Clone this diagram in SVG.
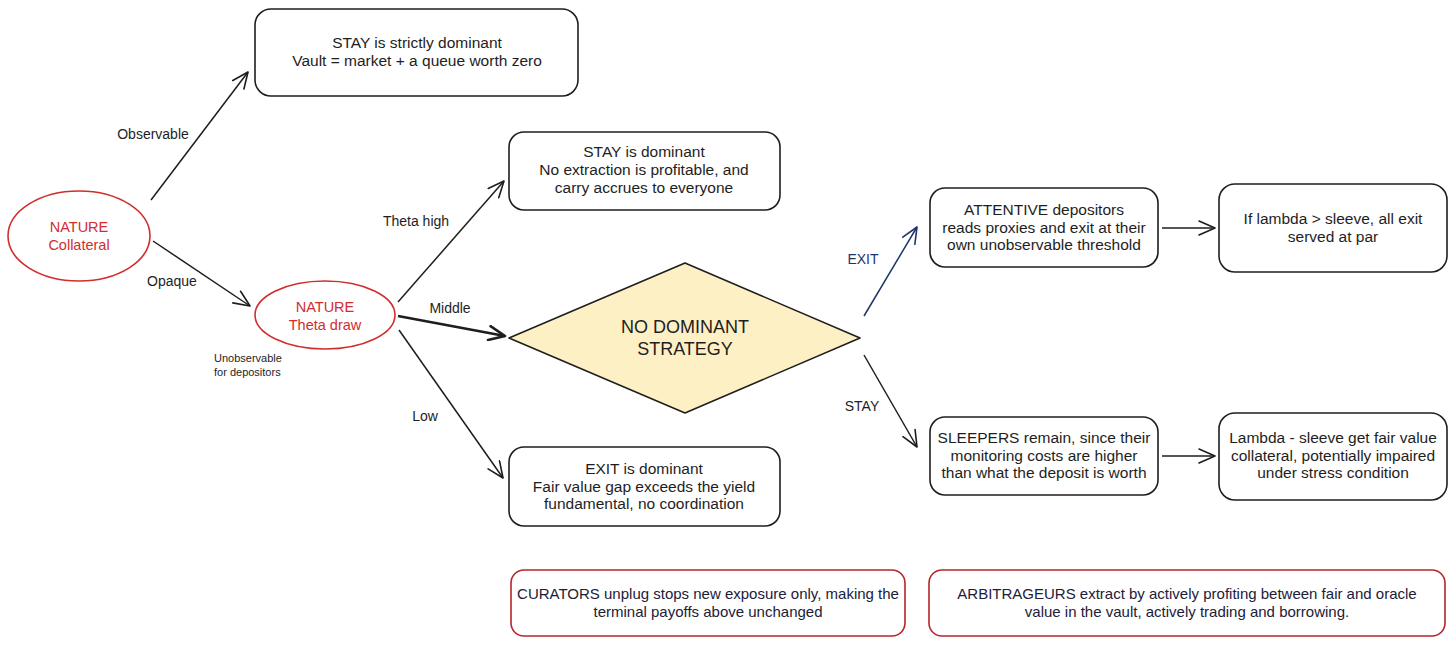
<svg xmlns="http://www.w3.org/2000/svg" width="1456" height="646" viewBox="0 0 1456 646">
<defs>
<style>
text{font-family:"Liberation Sans","Noto Sans",sans-serif;fill:#1e1e1e;font-size:15.5px;text-anchor:middle}
.box{fill:#fff;stroke:#1e1e1e;stroke-width:1.6}
.rbox{fill:#fff;stroke:#b7262b;stroke-width:1.6}
.nat{fill:#fff;stroke:#d12d2d;stroke-width:1.6}
.red{fill:#d12d2d;font-size:14.5px}
.navy{fill:#1e3468}
.bt{fill:#1c2038;font-size:15px}
.lbl{font-size:14px}
.small{font-size:11px;text-anchor:start}
.conn{fill:none;stroke:#1e1e1e;stroke-width:1.5;marker-end:url(#ah)}
.connb{fill:none;stroke:#1e3468;stroke-width:1.5;marker-end:url(#ahb)}
</style>
<marker id="ah" viewBox="0 0 20 16" refX="18" refY="8" markerWidth="20" markerHeight="16" markerUnits="userSpaceOnUse" orient="auto">
<path d="M2,1 L18,8 L2,15" fill="none" stroke="#1e1e1e" stroke-width="1.6" stroke-linecap="round" stroke-linejoin="round"/>
</marker>
<marker id="ahb" viewBox="0 0 20 16" refX="18" refY="8" markerWidth="20" markerHeight="16" markerUnits="userSpaceOnUse" orient="auto">
<path d="M2,1 L18,8 L2,15" fill="none" stroke="#1e3468" stroke-width="1.6" stroke-linecap="round" stroke-linejoin="round"/>
</marker>
<marker id="ahm" viewBox="0 0 20 16" refX="18" refY="8" markerWidth="20" markerHeight="16" markerUnits="userSpaceOnUse" orient="auto">
<path d="M2,1 L18,8 L2,15" fill="none" stroke="#1e1e1e" stroke-width="2.6" stroke-linecap="round" stroke-linejoin="round"/>
</marker>
</defs>
<rect width="1456" height="646" fill="#fff"/>

<g id="connectors">
<path class="conn" d="M151,200 L248,72"/>
<path class="conn" d="M153,241 L250,306"/>
<path class="conn" d="M398,302 L504,181"/>
<path class="conn" d="M398,316 L505,336" style="stroke-width:2.6;marker-end:url(#ahm)"/>
<path class="conn" d="M399,330 L503,478"/>
<path class="connb" d="M864,316 L917,227"/>
<path class="conn" d="M864,355 L917,447"/>
<path class="conn" d="M1162,228 L1215,228"/>
<path class="conn" d="M1162,456 L1215,456"/>
<text class="lbl" x="153" y="139">Observable</text>
<text class="lbl" x="172" y="286">Opaque</text>
<text class="lbl" x="416" y="226">Theta high</text>
<text class="lbl" x="450" y="313">Middle</text>
<text class="lbl" x="425" y="421">Low</text>
<text class="lbl navy" x="863" y="264">EXIT</text>
<text class="lbl" x="862" y="411">STAY</text>
</g>

<g id="nature-collateral">
<ellipse class="nat" cx="79" cy="236" rx="71" ry="45"/>
<text class="red" x="79" y="232">NATURE</text>
<text class="red" x="79" y="250">Collateral</text>
</g>

<g id="nature-theta">
<ellipse class="nat" cx="325" cy="315" rx="70" ry="34"/>
<text class="red" x="325" y="312">NATURE</text>
<text class="red" x="325" y="330">Theta draw</text>
<text class="small" x="214" y="362">Unobservable</text>
<text class="small" x="214" y="376">for depositors</text>
</g>

<g id="stay-strict">
<rect class="box" x="255" y="9" width="323" height="87" rx="16"/>
<text x="417" y="48">STAY is strictly dominant</text>
<text x="417" y="66">Vault = market + a queue worth zero</text>
</g>

<g id="stay-dominant">
<rect class="box" x="509" y="132" width="271" height="78" rx="15"/>
<text x="644" y="157">STAY is dominant</text>
<text x="644" y="175">No extraction is profitable, and</text>
<text x="644" y="193">carry accrues to everyone</text>
</g>

<g id="no-dominant">
<path d="M509,338 L685,263 L860,338 L685,413 Z" fill="#fdf0c4" stroke="#1e1e1e" stroke-width="1.6" stroke-linejoin="round"/>
<text x="685" y="333" style="font-size:18px">NO DOMINANT</text>
<text x="685" y="355" style="font-size:18px">STRATEGY</text>
</g>

<g id="exit-dominant">
<rect class="box" x="509" y="447" width="271" height="79" rx="15"/>
<text x="644" y="474">EXIT is dominant</text>
<text x="644" y="492">Fair value gap exceeds the yield</text>
<text x="644" y="509">fundamental, no coordination</text>
</g>

<g id="attentive">
<rect class="box" x="930" y="188" width="228" height="79" rx="15"/>
<text x="1044" y="215">ATTENTIVE depositors</text>
<text x="1044" y="233">reads proxies and exit at their</text>
<text x="1044" y="250">own unobservable threshold</text>
</g>

<g id="all-exit">
<rect class="box" x="1219" y="184" width="228" height="88" rx="16"/>
<text x="1333" y="224">If lambda &gt; sleeve, all exit</text>
<text x="1333" y="242">served at par</text>
</g>

<g id="sleepers">
<rect class="box" x="930" y="417" width="228" height="78" rx="15"/>
<text x="1044" y="443">SLEEPERS remain, since their</text>
<text x="1044" y="461">monitoring costs are higher</text>
<text x="1044" y="478">than what the deposit is worth</text>
</g>

<g id="lambda-sleeve">
<rect class="box" x="1219" y="413" width="228" height="87" rx="16"/>
<text x="1333" y="443">Lambda - sleeve get fair value</text>
<text x="1333" y="461">collateral, potentially impaired</text>
<text x="1333" y="478">under stress condition</text>
</g>

<g id="curators">
<rect class="rbox" x="511" y="570" width="394" height="66" rx="13"/>
<text class="bt" x="708" y="599">CURATORS unplug stops new exposure only, making the</text>
<text class="bt" x="708" y="617">terminal payoffs above unchanged</text>
</g>

<g id="arbitrageurs">
<rect class="rbox" x="929" y="570" width="516" height="66" rx="13"/>
<text class="bt" x="1187" y="599">ARBITRAGEURS extract by actively profiting between fair and oracle</text>
<text class="bt" x="1187" y="617">value in the vault, actively trading and borrowing.</text>
</g>
</svg>
